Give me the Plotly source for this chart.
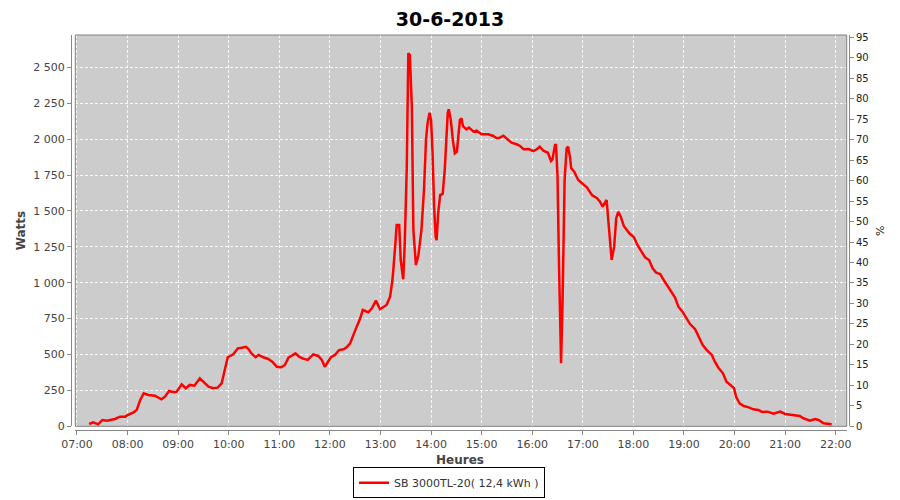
import pandas as pd
import plotly.graph_objects as go

title_text = "30-6-2013"
series_name = "SB 3000TL-20( 12,4 kWh )"
x_title = "Heures"
y_title = "Watts"
y2_title = "%"

# time of day in decimal hours
hours = [
    7.24, 7.32, 7.42, 7.50, 7.59, 7.65, 7.75, 7.85, 7.95, 8.01, 8.11, 8.18, 8.25, 8.32, 8.41,
    8.54, 8.67, 8.74, 8.82, 8.92, 8.97, 9.07, 9.15, 9.23, 9.32, 9.43, 9.50, 9.60, 9.69, 9.78,
    9.86, 9.91, 9.98, 10.09, 10.18, 10.26, 10.34, 10.39, 10.45, 10.53, 10.59, 10.68, 10.78,
    10.86, 10.95, 11.04, 11.11, 11.18, 11.24, 11.32, 11.39, 11.47, 11.56, 11.67, 11.77, 11.84,
    11.90, 11.97, 12.02, 12.10, 12.18, 12.27, 12.33, 12.40, 12.46, 12.53, 12.60, 12.65, 12.70,
    12.76, 12.83, 12.91, 12.99, 13.12, 13.19, 13.24, 13.29, 13.32, 13.37, 13.40, 13.45, 13.48,
    13.52, 13.55, 13.58, 13.62, 13.65, 13.70, 13.75, 13.81, 13.86, 13.90, 13.93, 13.97, 14.00,
    14.03, 14.06, 14.09, 14.11, 14.14, 14.18, 14.23, 14.27, 14.31, 14.33, 14.35, 14.39, 14.43,
    14.47, 14.51, 14.54, 14.57, 14.60, 14.63, 14.70, 14.75, 14.84, 14.90, 15.00, 15.13, 15.23,
    15.30, 15.36, 15.43, 15.51, 15.59, 15.69, 15.76, 15.83, 15.93, 16.02, 16.09, 16.15, 16.22,
    16.31, 16.37, 16.40, 16.45, 16.47, 16.50, 16.53, 16.57, 16.60, 16.64, 16.68, 16.71, 16.75,
    16.77, 16.83, 16.91, 17.00, 17.08, 17.18, 17.28, 17.34, 17.39, 17.47, 17.52, 17.57, 17.62,
    17.66, 17.70, 17.75, 17.81, 17.92, 18.01, 18.08, 18.16, 18.23, 18.31, 18.38, 18.45, 18.53,
    18.59, 18.66, 18.74, 18.82, 18.89, 18.97, 19.05, 19.12, 19.22, 19.28, 19.37, 19.45, 19.55,
    19.61, 19.68, 19.77, 19.84, 19.94, 19.99, 20.03, 20.10, 20.18, 20.28, 20.37, 20.47, 20.54,
    20.65, 20.77, 20.90, 21.00, 21.10, 21.20, 21.29, 21.36, 21.43, 21.49, 21.59, 21.66, 21.76,
    21.86, 21.92,
]

watts = [
    16, 28, 14, 44, 39, 44, 51, 67, 67, 79, 95, 113, 183, 230, 218,
    213, 188, 206, 246, 237, 241, 292, 265, 288, 283, 334, 311, 276, 265, 269,
    299, 369, 481, 501, 543, 547, 554, 538, 508, 481, 497, 481, 469,
    450, 415, 411, 427, 478, 492, 508, 485, 471, 462, 501, 490, 462,
    415, 450, 481, 497, 531, 536, 550, 578, 636, 694, 752, 810, 803,
    794, 822, 875, 815, 845, 903, 1031, 1251, 1402, 1402, 1158, 1024, 1279,
    1808, 2598, 2586, 2226, 1367, 1123, 1193, 1367, 1646, 1994, 2110, 2184, 2133,
    1901, 1529, 1320, 1297, 1483, 1611, 1618, 1785, 2017, 2184, 2208, 2133, 1994,
    1901, 1912, 2040, 2133, 2145, 2091, 2068, 2080, 2052, 2059, 2034, 2034, 2022,
    2006, 2010, 2024, 1999, 1975, 1964, 1952, 1929, 1931, 1917, 1929, 1947, 1919,
    1905, 1848, 1859, 1959, 1959, 1738, 1111, 439, 880, 1715, 1936, 1947, 1866,
    1797, 1773, 1715, 1687, 1664, 1611, 1588, 1564, 1529, 1576, 1390, 1158, 1251,
    1449, 1494, 1460, 1395, 1344, 1316, 1263, 1216, 1177, 1158, 1100, 1070, 1061,
    1024, 984, 937, 898, 833, 798, 752, 712, 676, 636, 566, 531, 497,
    450, 408, 369, 311, 281, 265, 206, 160, 141, 132, 118, 114, 100,
    102, 88, 102, 86, 81, 72, 72, 56, 49, 39, 51, 44, 21,
    14, 14,
]

day = pd.Timestamp("2013-06-30")
x_times = day + pd.to_timedelta(hours, unit="h")

x_start = day + pd.Timedelta(hours=6, minutes=58)
x_end = day + pd.Timedelta(hours=22, minutes=13)
y_max_watts = 2725
y_max_pct = 95.56

# The page body has an 8px margin, so the figure is 8px smaller than the window
# and all layout positions are given in figure pixels (window pixels - 8).
W, H = 892, 492
OFF = 8


def px_x(wx):
    return (wx - OFF) / W


def px_y(wy):
    return 1 - (wy - OFF) / H


font_family = "DejaVu Sans"
tick_font = dict(family=font_family, size=11, color="#444444")
grid_color = "rgba(255,255,255,0.85)"
axis_grey = "#888888"

fig = go.Figure()
fig.add_trace(go.Scatter(
    x=x_times, y=watts, mode="lines", name=series_name,
    line=dict(color="#FF0000", width=2.5),
))
# invisible helper so the right-hand % axis is drawn
fig.add_trace(go.Scatter(
    x=[x_start], y=[0], yaxis="y2", mode="markers",
    marker=dict(opacity=0), showlegend=False, hoverinfo="skip",
))

fig.update_layout(
    width=W, height=H,
    paper_bgcolor="white", plot_bgcolor="#CCCCCC",
    margin=dict(l=0, r=0, t=0, b=0, pad=0, autoexpand=False),
    separators=", ",
    font=dict(family=font_family, color="#444444"),
    title=dict(text=title_text, x=px_x(450), xanchor="center", xref="container",
               y=1 - 11 / H, yanchor="middle", yref="container",
               font=dict(family=font_family, size=19, color="black", weight="bold")),
    showlegend=True,
    legend=dict(orientation="h", x=px_x(449), xanchor="center", xref="paper",
                y=px_y(498.3), yanchor="bottom", yref="paper",
                bgcolor="white", bordercolor="black", borderwidth=1,
                font=dict(family=font_family, size=11, color="#333333"),
                itemwidth=30, tracegroupgap=0),
    xaxis=dict(
        domain=[px_x(75.3), px_x(846.7)],
        anchor="free", position=px_y(430),
        type="date", range=[x_start, x_end],
        tickformat="%H:%M", dtick=3600000, tick0=day + pd.Timedelta(hours=7),
        showline=True, linecolor=axis_grey, linewidth=1,
        ticks="outside", ticklen=4, tickcolor=axis_grey,
        tickfont=tick_font, automargin=False,
        showgrid=True, gridcolor=grid_color, gridwidth=1, griddash="3px,2px",
        zeroline=False,
    ),
    yaxis=dict(
        domain=[px_y(426.3), px_y(35)],
        anchor="free", position=px_x(71),
        range=[0, y_max_watts], dtick=250, tickformat=",d",
        showline=True, linecolor=axis_grey, linewidth=1,
        ticks="outside", ticklen=4, tickcolor=axis_grey,
        tickfont=tick_font, automargin=False,
        showgrid=True, gridcolor=grid_color, gridwidth=1, griddash="3px,2px",
        zeroline=False,
    ),
    yaxis2=dict(
        overlaying="y", side="right", anchor="free", position=px_x(849),
        range=[0, y_max_pct], dtick=5,
        showline=True, linecolor=axis_grey, linewidth=1,
        ticks="outside", ticklen=4, tickcolor=axis_grey,
        tickfont=dict(family=font_family, size=10, color="#222222"),
        automargin=False,
        showgrid=False, zeroline=False,
    ),
    shapes=[dict(type="rect", xref="x domain", yref="y domain",
                 x0=0, x1=1, y0=0, y1=1,
                 line=dict(color="#808080", width=1), layer="above")],
    annotations=[
        dict(text=x_title, xref="paper", yref="paper", x=px_x(459.5), y=px_y(460),
             xanchor="center", yanchor="middle", showarrow=False,
             font=dict(family=font_family, size=12, color="#444444", weight="bold")),
        dict(text=y_title, xref="paper", yref="paper", x=px_x(21), y=px_y(230.3),
             xanchor="center", yanchor="middle", showarrow=False, textangle=-90,
             font=dict(family=font_family, size=12, color="#444444", weight="bold")),
        dict(text=y2_title, xref="paper", yref="paper", x=px_x(880), y=px_y(231),
             xanchor="center", yanchor="middle", showarrow=False, textangle=-90,
             font=dict(family=font_family, size=11, color="#222222")),
    ],
)

fig.write_html("out.html")
